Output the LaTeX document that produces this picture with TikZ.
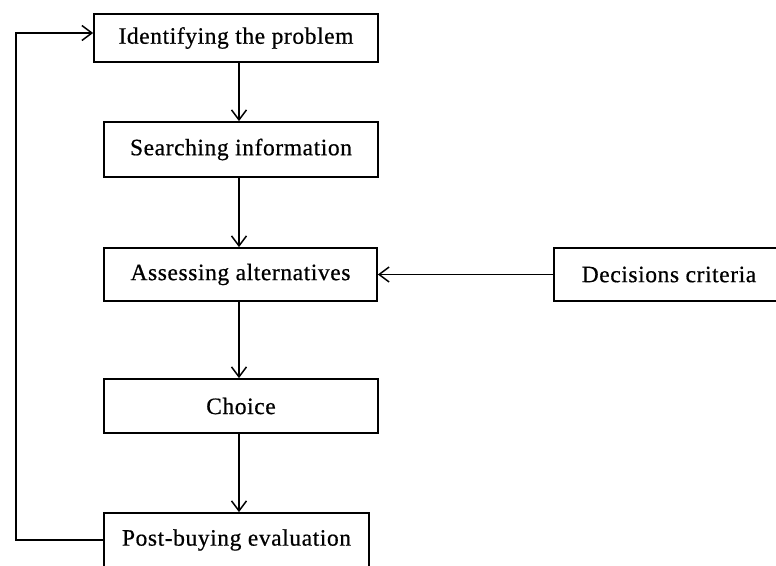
\documentclass[tikz,border=0pt]{standalone}
\usepackage{fontspec}
\setmainfont{Liberation Serif}[LetterSpace=2.5, FakeBold=0.6]
\usetikzlibrary{arrows.meta}
\tikzset{
  stage/.style={draw, line width=1.7pt, minimum width=#1, minimum height=54pt,
    inner sep=0pt, font=\fontsize{23.5pt}{28pt}\selectfont, anchor=center},
  flow/.style={draw, line width=1.7pt, -{Straight Barb[length=10pt,width=15pt,line width=1.5pt]}}
}
\begin{document}
\begin{tikzpicture}[x=1pt,y=-1pt]
  \useasboundingbox (0,0) rectangle (776,565);
  % process stages
  \node[stage=284pt, minimum height=48pt] (idp) at (236,38) {Identifying the problem};
  \node[stage=274pt, minimum height=55pt] (srch) at (241,149.5) {Searching information};
  \node[stage=273pt, minimum height=53pt] (asse) at (240.5,274.5) {Assessing alternatives};
  \node[stage=274pt] (choi) at (241,406) {Choice};
  \node[stage=265pt] (post) at (236.5,540) {Post-buying evaluation};
  \node[stage=230pt, minimum height=53pt] (crit) at (669,274.5) {Decisions criteria};
  % connectors
  \draw[flow] (idp.south -| 239,0) -- (239,0 |- srch.north);
  \draw[flow] (srch.south -| 239,0) -- (239,0 |- asse.north);
  \draw[flow] (asse.south -| 239,0) -- (239,0 |- choi.north);
  \draw[flow] (choi.south -| 239,0) -- (239,0 |- post.north);
  \draw[flow] (crit.west) -- (asse.east);
  \coordinate (fb) at (16,540);
  \draw[flow] (post.west) -- (fb) |- ([yshift=5pt]idp.west);
\end{tikzpicture}
\end{document}
